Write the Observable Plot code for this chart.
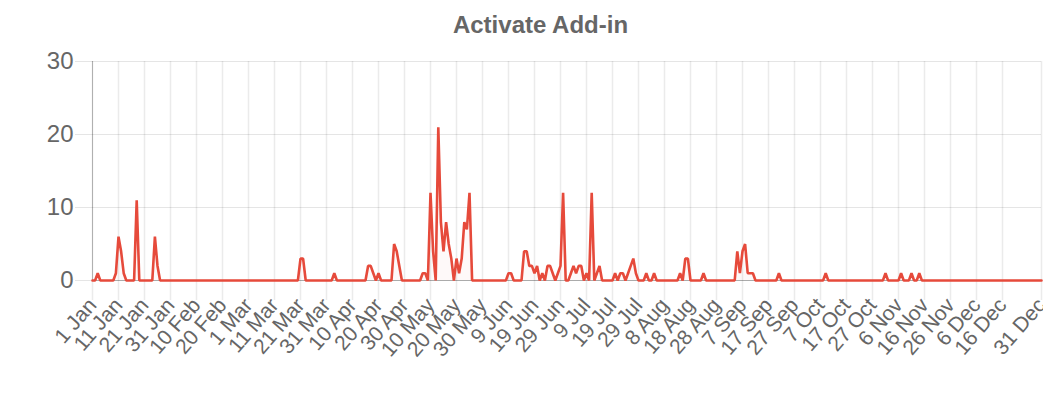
<!DOCTYPE html>
<html>
<head>
<meta charset="utf-8">
<script src="https://cdn.jsdelivr.net/npm/d3@7"></script>
<script src="https://cdn.jsdelivr.net/npm/@observablehq/plot@0.6"></script>
<style>
  html, body { margin: 0; padding: 0; background: #fff; }
  #wrap { position: relative; width: 1043px; height: 403px; overflow: hidden; font-family: "Liberation Sans", Arial, sans-serif; }
  #title { position: absolute; left: 0; top: 13px; width: 1081px; text-align: center; font-weight: bold; font-size: 24px; line-height: 24px; color: #666; }
  #chart { position: absolute; left: 0; top: 45px; }
</style>
</head>
<body>
<div id="wrap">
  <div id="title">Activate Add-in</div>
  <div id="chart"></div>
</div>
<script>
// Daily values (leap year, 366 days), one array per month
const jan = [0,0,1,0,0,0,0,0,0,1, 6,4,1,0,0,0,0,11,0,0, 0,0,0,0,6,2,0,0,0,0, 0];
const feb = [0,0,0,0,0,0,0,0,0,0, 0,0,0,0,0,0,0,0,0,0, 0,0,0,0,0,0,0,0,0];
const mar = [0,0,0,0,0,0,0,0,0,0, 0,0,0,0,0,0,0,0,0,0, 3,3,0,0,0,0,0,0,0,0, 0];
const apr = [0,0,1,0,0,0,0,0,0,0, 0,0,0,0,0,2,2,1,0,1, 0,0,0,0,0,5,4,2,0,0];
const may = [0,0,0,0,0,0,1,1,0,12, 4,0,21,8,4,8,5,3,0,3, 1,3,8,7,12,0,0,0,0,0, 0];
const jun = [0,0,0,0,0,0,0,0,1,1, 0,0,0,0,4,4,2,2,1,2, 0,1,0,2,2,1,0,1,2,12];
const jul = [0,0,1,2,1,2,2,0,1,0, 12,0,1,2,0,0,0,0,0,1, 0,1,1,0,1,2,3,1,0,0, 0];
const aug = [1,0,0,1,0,0,0,0,0,0, 0,0,0,1,0,3,3,0,0,0, 0,0,1,0,0,0,0,0,0,0, 0];
const sep = [0,0,0,0,4,1,4,5,1,1, 1,0,0,0,0,0,0,0,0,0, 1,0,0,0,0,0,0,0,0,0];
const oct = [0,0,0,0,0,0,0,0,1,0, 0,0,0,0,0,0,0,0,0,0, 0,0,0,0,0,0,0,0,0,0, 0];
const nov = [1,0,0,0,0,0,1,0,0,0, 1,0,0,1,0,0,0,0,0,0, 0,0,0,0,0,0,0,0,0,0];
const dec = [0,0,0,0,0,0,0,0,0,0, 0,0,0,0,0,0,0,0,0,0, 0,0,0,0,0,0,0,0,0,0, 0];

const tickDays = [0,10,20,30,40,50,60,70,80,90,100,110,120,130,140,150,160,170,180,190,200,210,220,230,240,250,260,270,280,290,300,310,320,330,340,350,365];
const tickLabels = ["1 Jan","11 Jan","21 Jan","31 Jan","10 Feb","20 Feb","1 Mar","11 Mar","21 Mar","31 Mar","10 Apr","20 Apr","30 Apr","10 May","20 May","30 May","9 Jun","19 Jun","29 Jun","9 Jul","19 Jul","29 Jul","8 Aug","18 Aug","28 Aug","7 Sep","17 Sep","27 Sep","7 Oct","17 Oct","27 Oct","6 Nov","16 Nov","26 Nov","6 Dec","16 Dec","31 Dec"];
const yTicks = [0, 10, 20, 30];

const values = [].concat(jan, feb, mar, apr, may, jun, jul, aug, sep, oct, nov, dec);
const data = values.map((v, i) => ({day: i, value: v}));

const chart = Plot.plot({
  width: 1043,
  height: 358,
  marginLeft: 92,
  marginRight: 2,
  marginTop: 16,
  marginBottom: 123,
  style: {fontFamily: "Liberation Sans, Arial, sans-serif", color: "#666", background: "#fff", overflow: "visible"},
  x: {type: "linear", domain: [0, 365]},
  y: {domain: [0, 30]},
  marks: [
    Plot.gridY(yTicks, {stroke: "#000", strokeOpacity: 0.1, strokeWidth: 1}),
    Plot.gridX(tickDays, {stroke: "#000", strokeOpacity: 0.08, strokeWidth: 1.5}),
    Plot.axisY(yTicks, {tickSize: 17, tickPadding: 2, fontSize: 24, stroke: "#000", strokeOpacity: 0.1, fill: "#666", label: null}),
    Plot.axisX(tickDays, {tickSize: 20, tickPadding: 1, tickRotate: -49, fontSize: 21, stroke: "#000", strokeOpacity: 0.08, strokeWidth: 1.5, fill: "#666", label: null,
      tickFormat: d => tickLabels[tickDays.indexOf(d)]}),
    Plot.ruleY([0], {stroke: "#000", strokeOpacity: 0.25}),
    Plot.ruleX([0], {stroke: "#000", strokeOpacity: 0.25}),
    Plot.areaY(data, {x: "day", y: "value", fill: "#e74c3c", fillOpacity: 0.03}),
    Plot.lineY(data, {x: "day", y: "value", stroke: "#e64a3b", strokeWidth: 2.6, strokeLinejoin: "miter"})
  ]
});
document.getElementById("chart").appendChild(chart);
</script>
</body>
</html>
